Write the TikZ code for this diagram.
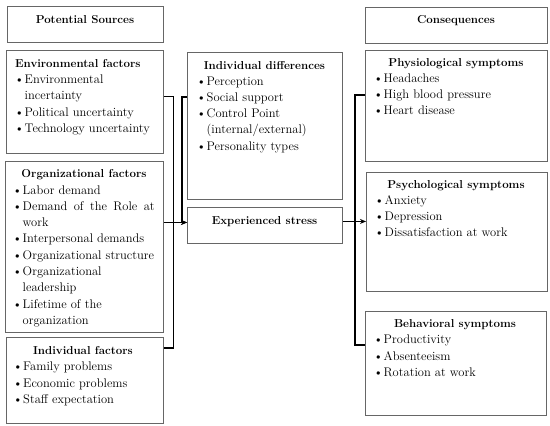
\documentclass[tikz,border=0pt]{standalone}
\usepackage{array}
\usetikzlibrary{arrows.meta}

\tikzset{
    box/.style={draw=black!60, line width=0.9pt, inner sep=0pt, anchor=north west},
    head/.style={font=\fontsize{11.5}{16.3}\selectfont\bfseries, anchor=base, inner sep=0pt},
    items/.style={font=\fontsize{12.5}{16.3}\selectfont, anchor=base west, inner sep=0pt, align=left},
    conn/.style={line width=1.1pt, black},
}
\newcommand{\blist}[1]{\begin{tabular}[t]{@{}l@{\hspace{0.5pt}}l@{}}#1\end{tabular}}
\newcommand{\bl}{\textbullet}

\begin{document}
\begin{tikzpicture}[x=1pt, y=-1pt, >={Stealth[length=6pt,width=5pt]}]

    \useasboundingbox (0,0) rectangle (550,426);

    % Left column
    \node[box, minimum width=156pt, minimum height=36pt] (src) at (7,6) {};
    \node[head] (srchd) at (85,23) {Potential Sources};

    \node[box, minimum width=157pt, minimum height=103pt] (env) at (6,50) {};
    \node[head, anchor=base west] (envhd) at (15,67) {Environmental factors};
    \node[items] (envlst) at (14.5,83.5) {\blist{
        \bl & Environmental\\
            & incertainty\\
        \bl & Political uncertainty\\
        \bl & Technology uncertainty}};

    \node[box, minimum width=158pt, minimum height=171pt] (org) at (5,161) {};
    \node[head] (orghd) at (84,177.5) {Organizational factors};
    \node[items] (orglst) at (12.5,194) {\blist{
        \bl & Labor demand\\
        \bl & \makebox[132pt][s]{Demand of the Role at}\\
            & work\\
        \bl & Interpersonal demands\\
        \bl & Organizational structure\\
        \bl & Organizational\\
            & leadership\\
        \bl & Lifetime of the\\
            & organization}};

    \node[box, minimum width=157pt, minimum height=86pt] (ind) at (6,337) {};
    \node[head] (indhd) at (83,354.7) {Individual factors};
    \node[items] (indlst) at (13,370.7) {\blist{
        \bl & Family problems\\
        \bl & Economic problems\\
        \bl & Staff expectation}};

    % Middle column
    \node[box, minimum width=155pt, minimum height=147pt] (diff) at (187,52) {};
    \node[head] (diffhd) at (264.5,69) {Individual differences};
    \node[items] (difflst) at (196.5,85) {\blist{
        \bl & Perception\\
        \bl & Social support\\
        \bl & Control Point\\
            & (internal/external)\\
        \bl & Personality types}};

    \node[box, minimum width=155pt, minimum height=36pt] (stress) at (187,207) {};
    \node[head] (stresshd) at (264.5,224) {Experienced stress};

    % Right column
    \node[box, minimum width=182pt, minimum height=36pt] (cons) at (365,7) {};
    \node[head] (conshd) at (456,23.3) {Consequences};

    \node[box, minimum width=182pt, minimum height=111pt] (phys) at (365,50) {};
    \node[head] (physhd) at (456,66.7) {Physiological symptoms};
    \node[items] (physlst) at (373.5,82.3) {\blist{
        \bl & Headaches\\
        \bl & High blood pressure\\
        \bl & Heart disease}};

    \node[box, minimum width=181pt, minimum height=119pt] (psych) at (366,172) {};
    \node[head] (psychhd) at (456,188.3) {Psychological symptoms};
    \node[items] (psychlst) at (374.5,204) {\blist{
        \bl & Anxiety\\
        \bl & Depression\\
        \bl & Dissatisfaction at work}};

    \node[box, minimum width=181pt, minimum height=104pt] (beh) at (365,311) {};
    \node[head] (behhd) at (455,327) {Behavioral symptoms};
    \node[items] (behlst) at (373.5,343.7) {\blist{
        \bl & Productivity\\
        \bl & Absenteeism\\
        \bl & Rotation at work}};

    % Connectors
    \coordinate (sin) at ([yshift=3pt]stress.west);
    \coordinate (sout) at ([yshift=4pt]stress.east);
    \draw[conn] ([yshift=5.5pt]env.east) -- ++(10,0) |- ([yshift=-11pt]ind.north east);
    \draw[conn, ->] (org.east |- sin) -- (sin);
    \draw[conn, ->] ([yshift=-45pt]diff.north west) -- ++(-5,0) |- (sin);
    \draw[conn] ([yshift=-45pt]phys.north west) -- ++(-10,0) |- ([yshift=-34pt]beh.north west);
    \draw[conn, ->] (sout) -- (psych.west |- sout);

\end{tikzpicture}
\end{document}
